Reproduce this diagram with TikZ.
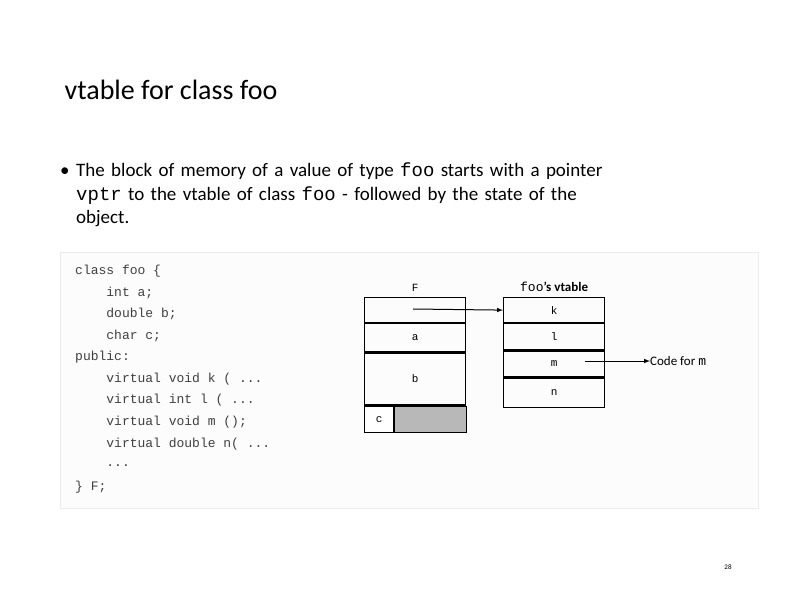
\documentclass[tikz,border=0pt]{standalone}
\usepackage{fontspec}
\setmainfont{Carlito}
\setmonofont{Liberation Mono}
\usetikzlibrary{positioning}
\newcommand\threedots{.{}.{}.}
\tikzset{
	cell/.style={draw, line width=1.2pt, minimum width=101pt, inner sep=0pt, font=\ttfamily\fontsize{11}{11}\selectfont},
	codeline/.style={anchor=west, inner sep=0pt, font=\ttfamily\fontsize{13}{13}\selectfont, text=black!75},
	ptr/.style={-latex, line width=1pt}
}
\begin{document}
\begin{tikzpicture}[x=1pt,y=-1pt]
	\useasboundingbox (0,0) rectangle (794,595);
	\node[anchor=west, font=\fontsize{28}{28}\selectfont] (title) at (61,90) {vtable for class foo};
	\node[anchor=north west, text width=660pt, align=left, font=\fontsize{19}{23.5}\selectfont, inner sep=0pt] (bullet) at (60,163)
		{\makebox[16pt][l]{•}The block of memory of a value of type \texttt{foo} starts with a pointer\\
		\hspace*{16pt}\texttt{vptr} to the vtable of class \texttt{foo} - followed by the state of the\\
		\hspace*{16pt}object.};
	\draw[black!8, fill=black!1] (60,252) rectangle (758,508);
	% code
	\foreach \txt [count=\i from 0] in {{class foo \{}, {\ \ \ \ int a;}, {\ \ \ \ double b;}, {\ \ \ \ char c;}, {public:},
		{\ \ \ \ virtual void k ( \threedots}, {\ \ \ \ virtual int l ( \threedots}, {\ \ \ \ virtual void m ();},
		{\ \ \ \ virtual double n( \threedots}, {\ \ \ \ \threedots}, {\} F;}}
		\node[codeline] (code\i) at (75,271+21.6*\i) {\txt};
	% object F
	\node[cell, minimum height=25pt, anchor=north west] (vptr) at (364,297) {};
	\node[cell, minimum height=28pt, below=0pt of vptr] (a) {a};
	\node[cell, minimum height=52pt, below=0pt of a] (b) {b};
	\node[cell, minimum height=26pt, minimum width=29pt, anchor=north west, fill=white] (c) at (b.south west) {c};
	\node[cell, minimum height=26pt, minimum width=72pt, anchor=north west, fill=black!28] (pad) at (c.north east) {};
	\node[above=2pt of vptr, font=\ttfamily\fontsize{11}{11}\selectfont] (F) {F};
	% vtable
	\node[cell, minimum height=25pt, anchor=north west] (k) at (503,297) {k};
	\node[cell, minimum height=26pt, below=0pt of k] (l) {l};
	\node[cell, minimum height=26pt, below=0pt of l] (m) {m};
	\node[cell, minimum height=29pt, below=0pt of m] (n) {n};
	\node[above=2pt of k, font=\fontsize{13}{13}\selectfont] (vt) {\texttt{foo}\textbf{'s vtable}};
	\coordinate (p) at (413,309);
	\coordinate (q) at (585,361);
	\node[anchor=west, inner sep=0pt, font=\fontsize{13}{13}\selectfont] (code) at (650,361) {Code for \texttt{m}};
	\draw[ptr] (p) -- (k.west);
	\draw[ptr] (q) -- (code.west);
	\node[font=\fontsize{7}{7}\selectfont] (page) at (728,567) {28};
\end{tikzpicture}
\end{document}
